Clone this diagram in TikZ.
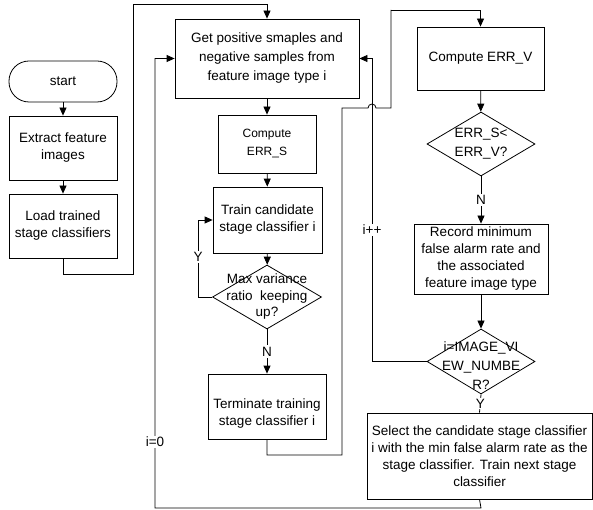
\documentclass[tikz,border=0pt]{standalone}
\usepackage{fontspec}
\setmainfont{Liberation Sans}
\usetikzlibrary{shapes.geometric,arrows.meta}
\begin{document}
\begin{tikzpicture}[x=1pt,y=-1pt,
  every node/.style={font=\fontsize{13.5}{17}\selectfont, align=center, inner sep=0pt},
  box/.style={draw, line width=0.8pt},
  dia/.style={draw, diamond, line width=0.8pt},
  arr/.style={-{Triangle[length=8pt,width=7pt]}, line width=0.8pt},
  ln/.style={line width=0.8pt},
  lbl/.style={fill=white, inner sep=1.5pt}]
\useasboundingbox (0,0) rectangle (593,510);

% left column
\node[box, rounded corners=20pt, minimum width=108pt, minimum height=41pt] (start) at (63,81.5) {start};
\node[box, minimum width=108pt, minimum height=64pt] (extract) at (63,148) {Extract feature\\images};
\node[box, minimum width=108pt, minimum height=64pt] (load) at (63,226) {Load trained\\stage classifiers};

% middle column
\node[box, minimum width=184pt, minimum height=79pt, font=\fontsize{13.5}{19}\selectfont] (get) at (267,58.5) {Get positive smaples and\\negative samples from\\feature image type i};
\node[box, minimum width=98pt, minimum height=58pt, font=\fontsize{12}{18}\selectfont] (errs) at (267,144) {Compute\\ERR\_S};
\node[box, minimum width=109pt, minimum height=66pt] (train) at (267.5,220) {Train candidate\\stage classifier i};
\node[dia, minimum width=109pt, minimum height=64pt] (maxd) at (267,297) {};
\node[font=\fontsize{13.5}{16.5}\selectfont] at (maxd) {Max variance\\ratio\ \ keeping\\up?};
\node[box, minimum width=118pt, minimum height=65pt] (term) at (267,406.5) {};
\node at ([yshift=-7pt]term.center) {Terminate training\\stage classifier i};

% right column
\node[box, minimum width=127pt, minimum height=63pt] (errv) at (480.5,58.5) {Compute ERR\_V};
\node[dia, minimum width=108pt, minimum height=64pt] (cmpd) at (481,144) {};
\node[font=\fontsize{13.5}{19}\selectfont] at (cmpd) {ERR\_S<\\ERR\_V?};
\node[box, minimum width=134pt, minimum height=70pt] (record) at (481,259) {Record minimum\\false alarm rate and\\the associated\\feature image type};
\node[dia, minimum width=108pt, minimum height=65pt] (imgd) at (481,361.5) {};
\node[font=\fontsize{13.5}{19}\selectfont] at ([yshift=-4pt]imgd.center) {i=IMAGE\_VI\\EW\_NUMBE\\R?};
\node[box, minimum width=225pt, minimum height=86pt] (select) at (479.5,456) {Select the candidate stage classifier\\i with the min false alarm rate as the\\stage classifier. Train next stage\\classifier};

% connectors
\draw[arr] (start) -- (extract);
\draw[arr] (extract) -- (load);
\draw[arr] (load.south) -- (63,274) -| (133,4) -| (get.north);
\draw[arr] (get) -- (errs);
\draw[arr] (errs) -- (train);
\draw[arr] (train) -- (maxd);
\draw[arr] (maxd.west) -- (198,297) |- (train.west) node[lbl, pos=0.26] {Y};
\draw[arr] (maxd.south) -- (term.north) node[lbl, midway] {N};
\draw[ln] (term.south) -- (267,455) -- (342,455) -- (342,108) -- (368,108) arc (180:360:4) -- (391,108) -- (391,10);
\draw[arr] (391,10) -| (errv.north);
\draw[arr] (errv) -- (cmpd);
\draw[arr] (cmpd.south) -- (record.north) node[lbl, midway] {N};
\draw[arr] (record) -- (imgd);
\draw[arr] (imgd.west) -- (372,361.5) |- (get.east) node[lbl, pos=0.217] {i++};
\draw[ln] (imgd.south) -- (select.north) node[lbl, midway, inner sep=0.5pt] {Y};
\draw[arr] (select.south) -- (481,508) -| (155,58.5) -- (get.west);
\node[lbl] at (155,442) {i=0};
\end{tikzpicture}
\end{document}
